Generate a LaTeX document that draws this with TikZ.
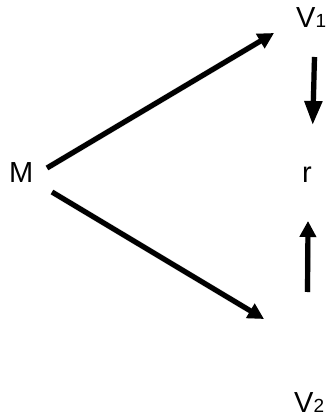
\documentclass[tikz,border=0pt]{standalone}
\usepackage{fontspec}
\setmainfont{Liberation Sans}
\usetikzlibrary{arrows.meta}
\begin{document}
\begin{tikzpicture}[x=1pt,y=-1pt,
  lbl/.style={inner sep=0pt,anchor=base west,font=\fontsize{29}{34}\selectfont},
  arr/.style={line width=5.2pt,-{Triangle[length=16pt,width=16pt]}},
  longhead/.style={-{Triangle[length=24pt,width=17pt]}},
  shade/.style={draw=black!12,line width=6pt,shift={(1.5pt,-2pt)}}]
\useasboundingbox (0,0) rectangle (327,419);
\node[lbl] (M) at (9,183) {M};
\node[lbl] (V1) at (296,28) {V{\fontsize{19}{22}\selectfont 1}};
\node[lbl] (r) at (302,183) {r};
\node[lbl] (V2) at (294,412) {V{\fontsize{19}{22}\selectfont 2}};
\coordinate (a1s) at (47,168);
\coordinate (a1e) at (274,33);
\coordinate (a2s) at (52,192);
\coordinate (a2e) at (264,319);
\coordinate (a3s) at (314.5,57);
\coordinate (a3e) at (312.7,125);
\coordinate (a4s) at (307.5,292);
\coordinate (a4e) at (308,221);
\foreach \s/\e in {a1s/a1e,a2s/a2e,a4s/a4e}
  \draw[arr,shade] (\s) -- (\e);
\draw[arr,longhead,shade] (a3s) -- (a3e);
\draw[arr] (a1s) -- (a1e);
\draw[arr] (a2s) -- (a2e);
\draw[arr,longhead] (a3s) -- (a3e);
\draw[arr] (a4s) -- (a4e);
\end{tikzpicture}
\end{document}
